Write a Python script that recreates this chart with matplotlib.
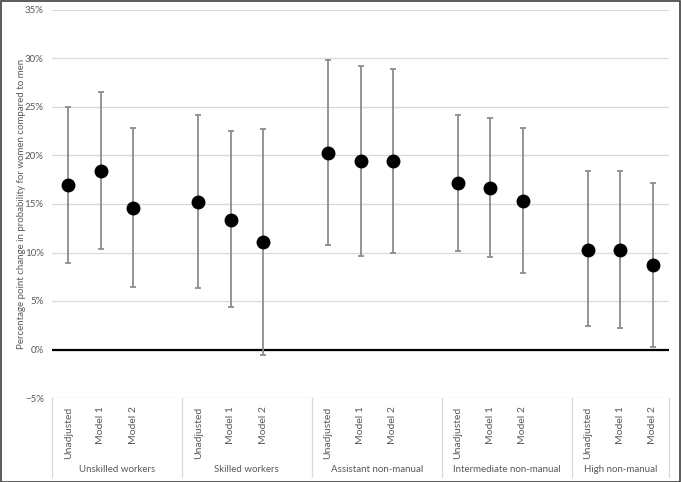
import numpy as np
import matplotlib.pyplot as plt
from matplotlib.ticker import PercentFormatter, MultipleLocator
from matplotlib.patches import Rectangle
import matplotlib.transforms as mtransforms

plt.rcParams["font.family"] = ["Lato", "DejaVu Sans"]

# ── data (percentage points) ──────────────────────────────────────────────────
groups = ["Unskilled workers", "Skilled workers", "Assistant non-manual",
          "Intermediate non-manual", "High non-manual"]
models = ["Unadjusted", "Model 1", "Model 2"]

estimate = [17.0, 18.4, 14.6,
            15.2, 13.4, 11.1,
            20.3, 19.4, 19.4,
            17.2, 16.7, 15.3,
            10.3, 10.3, 8.7]
lower = [8.9, 10.4, 6.4,
         6.3, 4.4, -0.6,
         10.8, 9.6, 9.9,
         10.2, 9.5, 7.9,
         2.4, 2.2, 0.3]
upper = [25.0, 26.5, 22.8,
         24.2, 22.5, 22.7,
         29.8, 29.2, 28.9,
         24.2, 23.9, 22.8,
         18.4, 18.4, 17.2]

TXT = "#595959"
GRID = "#D9D9D9"

# positions: 3 per group with an empty slot between groups
xpos = [g * 4 + m for g in range(len(groups)) for m in range(len(models))]
est = np.array(estimate)
yerr = [est - np.array(lower), np.array(upper) - est]

fig = plt.figure(figsize=(6.81, 4.82), dpi=100, facecolor="white")
ax = fig.add_axes([52 / 681, 1 - 398 / 482, 617 / 681, 388 / 482])

ax.errorbar(xpos, est, yerr=yerr, fmt="o", color="black", ms=9,
            ecolor="#8C8C8C", elinewidth=1.3, capsize=2.5, capthick=1.3, zorder=3)
ax.axhline(0, color="black", lw=1.6, zorder=2)

ax.set_xlim(-0.5, 18.5)
ax.set_ylim(-5, 35)
ax.yaxis.set_major_locator(MultipleLocator(5))
ax.yaxis.set_major_formatter(PercentFormatter(100, decimals=0))
ax.grid(axis="y", color=GRID, lw=0.9, zorder=0)
for sp in ax.spines.values():
    sp.set_visible(False)
ax.tick_params(axis="y", length=0, pad=6, labelsize=7, labelcolor=TXT)
ax.set_ylabel("Percentage point change in probability for women compared to men",
              fontsize=7, color=TXT, va="center")
ax.yaxis.set_label_coords(-(52 - 22) / 617, 0.5)

# category axis: rotated model labels + group names in a box
ax.set_xticks(xpos)
ax.set_xticklabels(models * len(groups), rotation=90, va="top", ha="center")
ax.tick_params(axis="x", length=0, pad=6, labelsize=7.5, labelcolor=TXT)

trans = mtransforms.blended_transform_factory(ax.transData, ax.transAxes)
box_bottom = -(477 - 398) / 388
for b in [-0.5, 3.5, 7.5, 11.5, 15.5, 18.5]:
    ax.plot([b, b], [0, box_bottom], transform=trans, color=GRID, lw=0.9,
            clip_on=False)
for g, name in enumerate(groups):
    left = max(-0.5, g * 4 - 0.5)
    right = min(18.5, g * 4 + 3.5)
    ax.text((left + right) / 2, -(470 - 398) / 388, name, transform=trans,
            ha="center", va="center", fontsize=7, color=TXT)

# outer chart border
fig.add_artist(Rectangle((0.5 / 681, 0.5 / 482), 1 - 1.5 / 681, 1 - 1.5 / 482,
                         transform=fig.transFigure, fill=False,
                         edgecolor="#404040", lw=1.2))

fig.savefig("out.png", dpi=100, facecolor="white")
